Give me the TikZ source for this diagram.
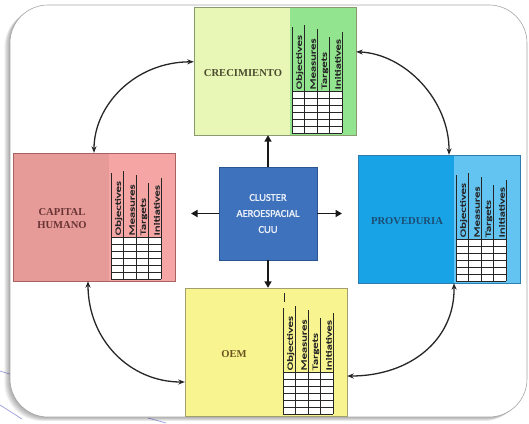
\documentclass[tikz,border=0pt]{standalone}
\usepackage{fontspec}
\usepackage{graphicx}
\setmainfont{Liberation Serif}
\newfontfamily\carlbf{Carlito}[FakeBold=1.6]
\usetikzlibrary{arrows.meta,calc}

\definecolor{creL}{HTML}{E8F6B6}
\definecolor{creR}{HTML}{93E48F}
\definecolor{creB}{HTML}{8A9A70}
\definecolor{creT}{HTML}{4B4B2E}
\definecolor{capL}{HTML}{E69B99}
\definecolor{capR}{HTML}{F4A5A4}
\definecolor{capB}{HTML}{A86262}
\definecolor{capT}{HTML}{6A3434}
\definecolor{proL}{HTML}{17A3E5}
\definecolor{proR}{HTML}{63C4F2}
\definecolor{proB}{HTML}{2D7DAE}
\definecolor{proT}{HTML}{1E4D73}
\definecolor{oemL}{HTML}{F8F590}
\definecolor{oemB}{HTML}{A3A070}
\definecolor{oemT}{HTML}{6A5520}
\definecolor{cluF}{HTML}{3F72BC}
\definecolor{cluB}{HTML}{2A5590}
\definecolor{cluT}{HTML}{EAF0FA}
\definecolor{scan}{HTML}{7070D0}

% #1 name, #2 x, #3 y, #4 left fill, #5 right fill, #6 border, #7 label colour, #8 label
\newcommand{\bscpanel}[8]{%
  \node[panel, fill=#4] (#1) at (#2+81,#3+64) {};
  \begin{scope}[shift={(#2,#3)}]
    \fill[#5] (96,0) rectangle (162,128);
    \node[lbl, text=#7] (#1-label) at (49,66) {#8};
    \fill[white] (98,84) rectangle (148,126);
    \foreach \j in {0,...,6} \draw[gl] (98,84+\j*7) -- (148,84+\j*7);
    \foreach \i/\t in {0/20,1/18,2/22,3/30,4/25} \draw[gl] (98+\i*12.5,\t) -- (98+\i*12.5,126);
    \foreach \w [count=\k from 1] in {Objectives,Measures,Targets,Initiatives}
      \node[hdr] (#1-h\k) at (98+\k*12.5-0.9,82.8) {\scalebox{1.6}[1]{\w}};
    \draw[#6, line width=0.7pt] (0,0) rectangle (162,128);
  \end{scope}
}

\begin{document}
\begin{tikzpicture}[x=1pt,y=-1pt,
  panel/.style={rectangle, minimum width=162pt, minimum height=128pt, inner sep=0pt, draw=none},
  lbl/.style={font=\bfseries\fontsize{10.6}{13}\selectfont, align=center, inner sep=0pt},
  hdr/.style={rotate=90, anchor=south west, inner sep=0.3pt, font=\carlbf\fontsize{8}{8}\selectfont, text=black!85},
  gl/.style={line width=0.7pt, black!85},
  link/.style={line width=1.7pt, black!90, -{Triangle[length=6.5pt,width=7pt]}},
  cyc/.style={line width=1.3pt, black!85, {Stealth[length=6.5pt,width=5pt]}-{Stealth[length=6.5pt,width=5pt]}},
  clubox/.style={rectangle, minimum width=98pt, minimum height=93pt, inner sep=0pt, fill=cluF, draw=cluB, line width=0.7pt,
    text=cluT, align=center, font=\carlbf\fontsize{10.5}{16}\selectfont}
]
\useasboundingbox (0,0) rectangle (529,423);

% scan artefacts outside the frame
\draw[scan, line width=0.7pt, opacity=0.7] (0,371) -- (16,376);
\draw[scan, line width=0.7pt, opacity=0.7] (0,405) -- (22,419);
\draw[scan, line width=0.7pt, opacity=0.7] (148,418) -- (166,423);

% frame shadow
\foreach \s in {1,...,7}
  \fill[black, opacity=0.05, rounded corners=38pt, xshift=-\s*0.8pt, yshift=-\s*0.6pt] (10,5) rectangle (527,417);
% frame
\draw[fill=white, draw=black!35, line width=0.6pt, rounded corners=38pt] (10,5) rectangle (527,417);

% panels
\bscpanel{cre}{194}{7}{creL}{creR}{creB}{creT}{CRECIMIENTO}
\bscpanel{cap}{13}{153}{capL}{capR}{capB}{capT}{CAPITAL\\HUMANO}
\bscpanel{pro}{358}{155}{proL}{proR}{proB}{proT}{PROVEDURIA}
\bscpanel{oem}{185}{288}{oemL}{oemL}{oemB}{oemT}{OEM}
\draw[gl] ($(oem.north west)+(100,5)$) -- ($(oem.north west)+(100,14)$);

% centre
\node[clubox] (cl) at (268,213.5) {CLUSTER\\AEROESPACIAL\\CUU};

\coordinate (lt) at (191,213.5);
\coordinate (rt) at (342,213.5);
\draw[link] (cl.north) -- (cl.north |- cre.south);
\draw[link] (cl.south) -- (cl.south |- oem.north);
\draw[link] (cl.west) -- (lt);
\draw[link] (cl.east) -- (rt);

% cycle arrows
\draw[cyc] (cap.north) .. controls (94,105) and (135,62) .. ($(cre.north west)+(0,55)$);
\draw[cyc] ($(cre.north east)+(0,45)$) .. controls (405,54) and (449.5,100) .. ($(pro.north)+(10,0)$);
\draw[cyc] ($(pro.south)+(15,0)$) .. controls (455,340) and (410,376) .. ($(oem.east)+(0,24)$);
\draw[cyc] ($(cap.south)+(-6,0)$) .. controls (88,340) and (130,382) .. ($(oem.west)+(0,30)$);
\end{tikzpicture}
\end{document}
